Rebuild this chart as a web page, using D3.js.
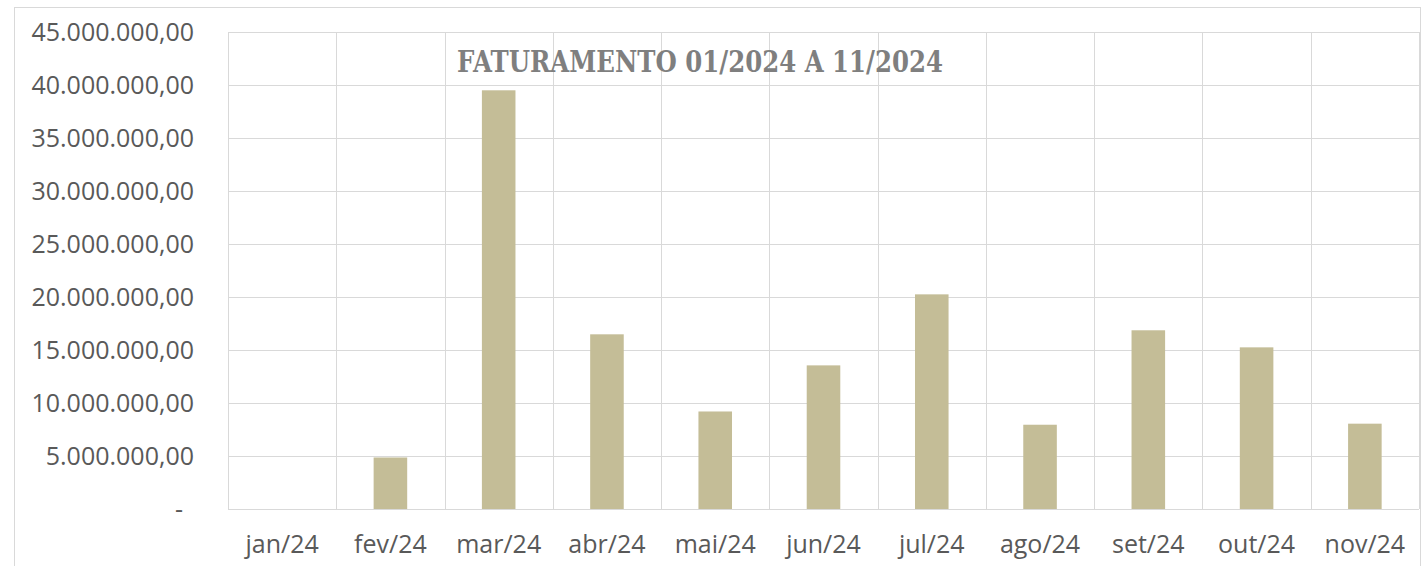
<!DOCTYPE html>
<html>
<head>
<meta charset="utf-8">
<script src="https://cdn.jsdelivr.net/npm/d3@7"></script>
<style>
  body { margin: 0; background: #fff; }
  svg { display: block; }
</style>
</head>
<body>
<div id="chart"></div>
<script>
// faturamento mensal
const months = ['jan/24', 'fev/24', 'mar/24', 'abr/24', 'mai/24', 'jun/24', 'jul/24', 'ago/24', 'set/24', 'out/24', 'nov/24'];
const revenue = [0, 4860000, 39500000, 16480000, 9200000, 13550000, 20250000, 7950000, 16860000, 15250000, 8050000];
const yTicks = [0, 5000000, 10000000, 15000000, 20000000, 25000000, 30000000, 35000000, 40000000, 45000000];
const chartTitle = 'FATURAMENTO 01/2024 A 11/2024';

const width = 1421, height = 566;
const margin = {top: 32, right: 2, bottom: 57, left: 228};

const svg = d3.select('#chart').append('svg')
    .attr('width', width)
    .attr('height', height);

// chart border
svg.append('rect')
    .attr('x', 14.5).attr('y', 7.5)
    .attr('width', width - 15).attr('height', height)
    .attr('fill', 'none')
    .attr('stroke', '#d9d9d9');

const x = d3.scaleBand()
    .domain(months)
    .range([margin.left, width - margin.right])
    .paddingInner(0.69)
    .paddingOuter(0.345);

const y = d3.scaleLinear()
    .domain([0, 45000000])
    .range([height - margin.bottom, margin.top]);

const fmt = v => v === 0 ? '-' :
    d3.format(',.2f')(v).replace(/,/g, '#').replace('.', ',').replace(/#/g, '.');

// horizontal grid
svg.append('g')
    .selectAll('line')
    .data(yTicks)
    .join('line')
    .attr('x1', margin.left).attr('x2', width - margin.right)
    .attr('y1', d => Math.round(y(d)) + 0.5).attr('y2', d => Math.round(y(d)) + 0.5)
    .attr('stroke', '#d9d9d9');

// vertical grid at category boundaries
const step = x.step();
const bounds = d3.range(months.length + 1).map(i => margin.left + i * step);
svg.append('g')
    .selectAll('line')
    .data(bounds)
    .join('line')
    .attr('x1', d => Math.round(d) + 0.5).attr('x2', d => Math.round(d) + 0.5)
    .attr('y1', y(45000000)).attr('y2', y(0))
    .attr('stroke', '#d9d9d9');

// bars
svg.append('g')
    .selectAll('rect')
    .data(revenue)
    .join('rect')
    .attr('x', (d, i) => x(months[i]))
    .attr('width', x.bandwidth())
    .attr('y', d => y(d))
    .attr('height', d => y(0) - y(d))
    .attr('fill', '#c4bd97');

// y labels
svg.append('g')
    .selectAll('text')
    .data(yTicks)
    .join('text')
    .attr('x', d => d === 0 ? 183 : 194)
    .attr('y', d => y(d) + 9)
    .attr('text-anchor', 'end')
    .attr('font-family', 'Open Sans, sans-serif')
    .attr('font-size', 25)
    .attr('fill', '#595959')
    .text(fmt);

// x labels
svg.append('g')
    .selectAll('text')
    .data(months)
    .join('text')
    .attr('x', d => x(d) + x.bandwidth() / 2)
    .attr('y', 553)
    .attr('text-anchor', 'middle')
    .attr('font-family', 'Open Sans, sans-serif')
    .attr('font-size', 25)
    .attr('fill', '#595959')
    .text(d => d);

// title
svg.append('text')
    .attr('x', 700)
    .attr('y', 72)
    .attr('text-anchor', 'middle')
    .attr('font-family', 'DejaVu Serif, serif')
    .attr('font-weight', 'bold')
    .attr('font-size', 30)
    .attr('textLength', 486)
    .attr('lengthAdjust', 'spacingAndGlyphs')
    .attr('fill', '#7f7f7f')
    .text(chartTitle);
</script>
</body>
</html>
